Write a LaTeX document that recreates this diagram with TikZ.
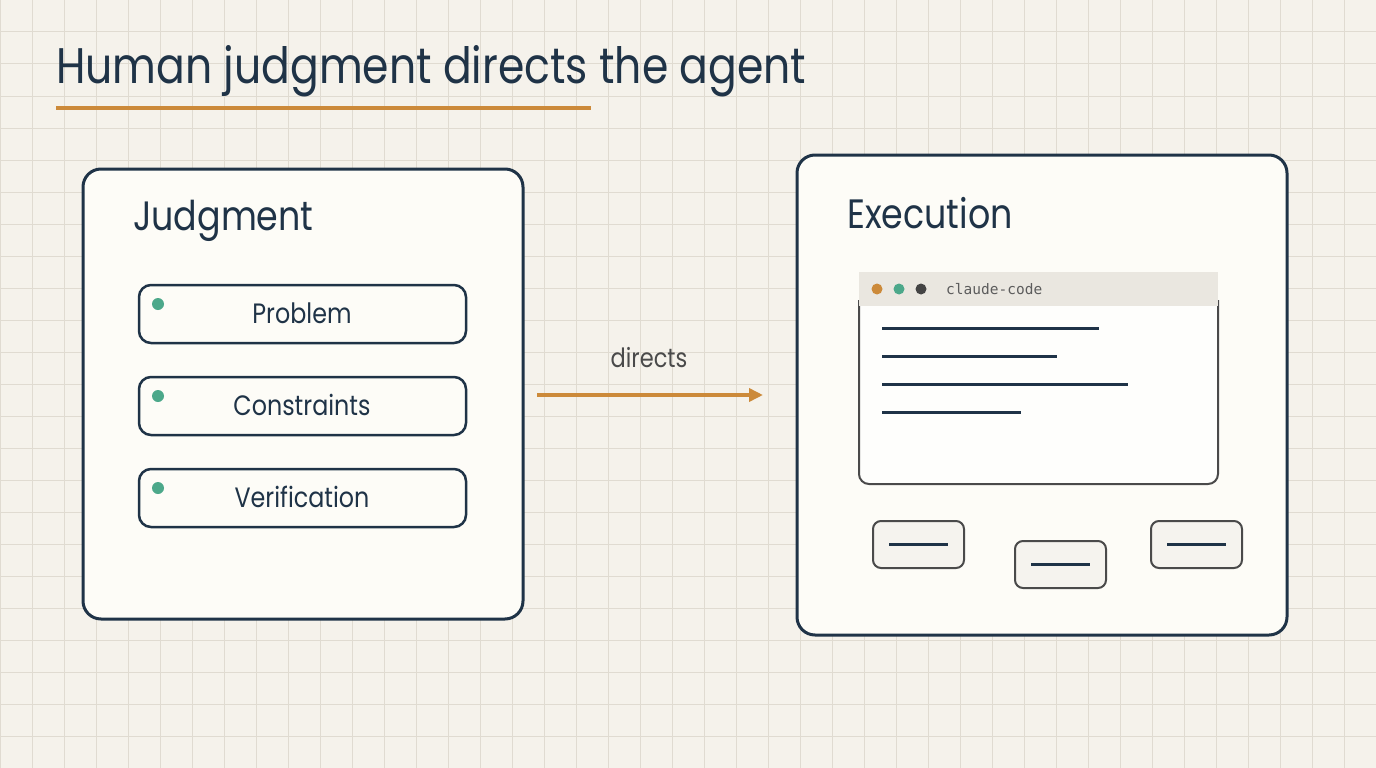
\documentclass[tikz,border=0pt]{standalone}
\usepackage{fontspec}
\usetikzlibrary{arrows.meta}
\newfontfamily\gothic{Poppins}[FakeStretch=0.85]
\setmonofont{DejaVu Sans Mono}
\definecolor{bgc}{HTML}{F5F2EB}
\definecolor{gridc}{HTML}{E0DBD1}
\definecolor{navy}{HTML}{1F3347}
\definecolor{orangec}{HTML}{CC8A3A}
\definecolor{greenc}{HTML}{4CA88A}
\definecolor{cardc}{HTML}{FDFCF7}
\definecolor{grayc}{HTML}{4A4A4A}
\definecolor{headc}{HTML}{EAE7E0}
\definecolor{btnc}{HTML}{F5F3EE}
\definecolor{darkdot}{HTML}{444444}
\tikzset{
  bigbox/.style={draw=navy, line width=3pt, fill=cardc, rounded corners=18pt, inner sep=0pt},
  itembox/.style={draw=navy, line width=2.5pt, fill=cardc, rounded corners=12pt, minimum width=327pt, minimum height=58pt, inner sep=0pt},
  itemtext/.style={text=navy, font=\gothic\fontsize{28}{34}\selectfont, anchor=base},
  headtext/.style={text=navy, font=\gothic\fontsize{41}{48}\selectfont, anchor=base west, inner sep=0pt},
  gdot/.style={circle, fill=greenc, minimum size=12pt, inner sep=0pt},
  tdot/.style={circle, minimum size=11pt, inner sep=0pt},
  btn/.style={draw=grayc, line width=2pt, fill=btnc, rounded corners=8pt, minimum width=91pt, minimum height=47pt, inner sep=0pt},
  codeline/.style={draw=navy, line width=3pt},
}
\begin{document}
\begin{tikzpicture}[x=1pt, y=-1pt]
\useasboundingbox (0,0) rectangle (1376,768);
\fill[bgc] (0,0) rectangle (1376,768);
\foreach \i in {0,...,43} { \draw[gridc, line width=1pt] (\i*32,0) -- (\i*32,768); }
\foreach \j in {0,...,24} { \draw[gridc, line width=1pt] (0,\j*32) -- (1376,\j*32); }

% title
\node[anchor=base west, inner sep=0pt, text=navy, font=\gothic\fontsize{50}{60}\selectfont] (title) at (56,84) {Human judgment directs the agent};
\coordinate (ul1) at (56,108);
\coordinate (ul2) at (591,108);
\draw[orangec, line width=4pt] (ul1) -- (ul2);

% judgment box
\node[bigbox, minimum width=440pt, minimum height=450pt] (judg) at (303,394) {};
\node[headtext] (judgt) at (133,230) {Judgment};

\node[itembox] (p1) at (302.5,314) {};
\node[itembox] (p2) at (302.5,406) {};
\node[itembox] (p3) at (302.5,498) {};
\node[gdot] (d1) at (158,304) {};
\node[gdot] (d2) at (158,396) {};
\node[gdot] (d3) at (158,488) {};
\node[itemtext] (t1) at (302,323) {Problem};
\node[itemtext] (t2) at (302,415) {Constraints};
\node[itemtext] (t3) at (302,507) {Verification};

% arrow
\coordinate (a1) at (537,395);
\coordinate (a2) at (763,395);
\draw[orangec, line width=4pt, -{Triangle[length=14pt,width=13pt]}] (a1) -- (a2);
\node[anchor=base, text=grayc, font=\gothic\fontsize{26.5}{30}\selectfont] (dir) at (649,367) {directs};

% execution box
\node[bigbox, minimum width=490pt, minimum height=480pt] (exec) at (1042,395) {};
\node[headtext] (exect) at (847,228) {Execution};

% terminal
\draw[grayc, line width=2pt, fill=white!60!cardc, rounded corners=10pt] (859,300) -- (859,484) -- (1218,484) -- (1218,300);
\node[fill=headc, minimum width=359pt, minimum height=34pt, inner sep=0pt] (head) at (1038.5,289) {};
\node[tdot, fill=orangec] (o1) at (877,289) {};
\node[tdot, fill=greenc] (o2) at (899,289) {};
\node[tdot, fill=darkdot] (o3) at (921,289) {};
\node[anchor=west, inner sep=0pt, text=grayc!90!white, font=\ttfamily\fontsize{14.5}{17}\selectfont] (cc) at (946,289) {claude-code};

\coordinate (l1a) at (882,328); \coordinate (l1b) at (1099,328);
\coordinate (l2a) at (882,356); \coordinate (l2b) at (1057,356);
\coordinate (l3a) at (882,384); \coordinate (l3b) at (1128,384);
\coordinate (l4a) at (882,412); \coordinate (l4b) at (1021,412);
\draw[codeline] (l1a) -- (l1b);
\draw[codeline] (l2a) -- (l2b);
\draw[codeline] (l3a) -- (l3b);
\draw[codeline] (l4a) -- (l4b);

% buttons
\node[btn] (b1) at (918.5,544.5) {};
\node[btn] (b2) at (1060.5,564.5) {};
\node[btn] (b3) at (1196.5,544.5) {};
\draw[codeline] ([xshift=-29.5pt]b1.center) -- ([xshift=29.5pt]b1.center);
\draw[codeline] ([xshift=-29.5pt]b2.center) -- ([xshift=29.5pt]b2.center);
\draw[codeline] ([xshift=-29.5pt]b3.center) -- ([xshift=29.5pt]b3.center);
\end{tikzpicture}
\end{document}
